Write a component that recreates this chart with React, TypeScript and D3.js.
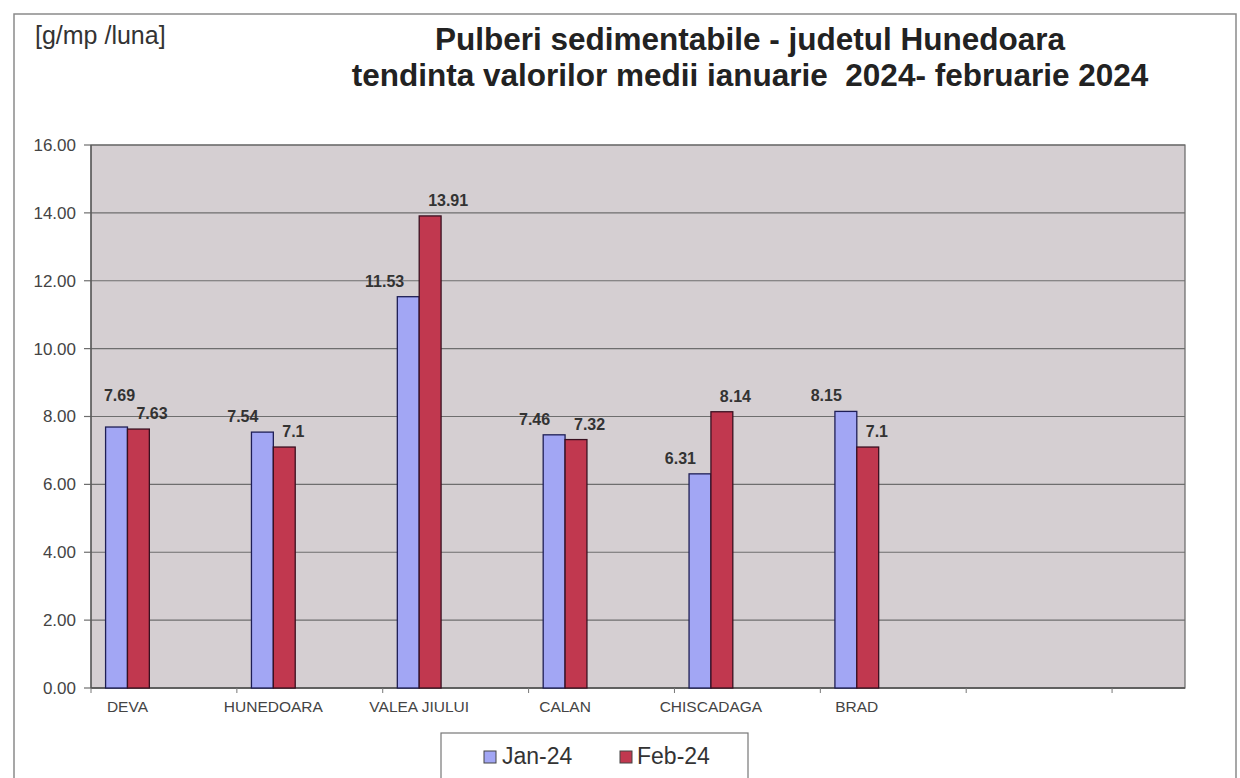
import React from 'react';
import * as d3 from 'd3';

// categories (Excel sheet had blank spacer columns between stations)
const categories = [
  'DEVA', '', 'HUNEDOARA', '', 'VALEA JIULUI', '', 'CALAN', '', 'CHISCADAGA', '', 'BRAD', '', '', '', '',
];
const stations = ['DEVA', 'HUNEDOARA', 'VALEA JIULUI', 'CALAN', 'CHISCADAGA', 'BRAD'];
const jan24 = [7.69, 7.54, 11.53, 7.46, 6.31, 8.15];
const feb24 = [7.63, 7.1, 13.91, 7.32, 8.14, 7.1];
const janLabels = ['7.69', '7.54', '11.53', '7.46', '6.31', '8.15'];
const febLabels = ['7.63', '7.1', '13.91', '7.32', '8.14', '7.1'];
const seriesNames = ['Jan-24', 'Feb-24'];
const yTicks = [0, 2, 4, 6, 8, 10, 12, 14, 16];

const W = 1240;
const H = 778;
const plot = { left: 91, right: 1185, top: 145, bottom: 688 };
const FONT = '"Liberation Sans", Arial, sans-serif';
const blue = '#a2a6f4';
const red = '#c1384f';
const LABEL_W = 36; // approx width of a data label

export default function App() {
  const x0 = d3
    .scaleBand<number>()
    .domain(d3.range(categories.length))
    .range([plot.left, plot.right]);

  const y = d3.scaleLinear().domain([0, 16]).range([plot.bottom, plot.top]);

  const groupW = x0.bandwidth() * 0.6;
  const x1 = d3
    .scaleBand<string>()
    .domain(seriesNames)
    .range([-groupW / 2, groupW / 2]);

  const slotOf = (name: string) => categories.indexOf(name);
  const center = (name: string) => (x0(slotOf(name)) as number) + x0.bandwidth() / 2;

  return (
    <svg width={W} height={H} style={{ display: 'block', position: 'absolute', left: 0, top: 0 }}>
      <rect x={0} y={0} width={W} height={H} fill="#ffffff" />
      {/* outer chart frame */}
      <rect x={14} y={14} width={1222} height={800} fill="none" stroke="#8a8a8a" strokeWidth={1.5} />

      <text x={35} y={44} fontFamily={FONT} fontSize={25} fill="#333">[g/mp /luna]</text>

      <text x={750} y={50} textAnchor="middle" fontFamily={FONT} fontSize={31.5} fontWeight="bold" fill="#222">
        Pulberi sedimentabile - judetul Hunedoara
      </text>
      <text x={750} y={86} textAnchor="middle" fontFamily={FONT} fontSize={31.5} fontWeight="bold" fill="#222" style={{ whiteSpace: 'pre' }}>
        {'tendinta valorilor medii ianuarie  2024- februarie 2024'}
      </text>

      {/* plot area */}
      <rect
        x={plot.left}
        y={plot.top}
        width={plot.right - plot.left}
        height={plot.bottom - plot.top}
        fill="#d5cfd2"
        stroke="#666"
        strokeWidth={1.2}
      />

      {yTicks.map(t => (
        <g key={t}>
          <line x1={plot.left} x2={plot.right} y1={y(t)} y2={y(t)} stroke="#6e6e6e" strokeWidth={1.2} />
          <line x1={plot.left - 7} x2={plot.left} y1={y(t)} y2={y(t)} stroke="#6e6e6e" strokeWidth={1.2} />
          <text
            x={plot.left - 15}
            y={y(t)}
            dy="0.35em"
            textAnchor="end"
            fontFamily={FONT}
            fontSize={17}
            fill="#444"
          >
            {d3.format('.2f')(t)}
          </text>
        </g>
      ))}

      {/* category axis */}
      <line x1={plot.left} x2={plot.right} y1={plot.bottom} y2={plot.bottom} stroke="#555" strokeWidth={1.5} />
      <line x1={plot.left} x2={plot.left} y1={plot.top} y2={plot.bottom} stroke="#555" strokeWidth={1.2} />
      {d3.range(0, categories.length + 1, 2).map(i => (
        <line
          key={i}
          x1={plot.left + i * x0.bandwidth()}
          x2={plot.left + i * x0.bandwidth()}
          y1={plot.bottom}
          y2={plot.bottom + 5}
          stroke="#777"
        />
      ))}
      {categories.map((c, i) =>
        c ? (
          <text
            key={i}
            x={(x0(i) as number) + x0.bandwidth() / 2}
            y={712}
            textAnchor="middle"
            fontFamily={FONT}
            fontSize={15.5}
            fill="#444"
          >
            {c}
          </text>
        ) : null
      )}

      {/* bars */}
      {stations.map((s, i) => {
        const cx = center(s);
        const bw = x1.bandwidth();
        const xj = cx + (x1('Jan-24') as number);
        const xf = cx + (x1('Feb-24') as number);
        // Jan label sits left of the bar; if it would leave the plot, lift it above the bar instead
        const janEnd = xj + bw / 2 - 4;
        const janOutside = janEnd - LABEL_W < plot.left;
        return (
          <g key={s}>
            <rect x={xj} y={y(jan24[i])} width={bw} height={y(0) - y(jan24[i])} fill={blue} stroke="#1e1e55" strokeWidth={1.3} />
            <rect x={xf} y={y(feb24[i])} width={bw} height={y(0) - y(feb24[i])} fill={red} stroke="#3a1020" strokeWidth={1.3} />
            <text
              x={janOutside ? xj + bw / 2 + 3 : janEnd}
              y={y(jan24[i]) - (janOutside ? 26 : 10)}
              textAnchor={janOutside ? 'middle' : 'end'}
              fontFamily={FONT}
              fontSize={16}
              fontWeight="bold"
              fill="#333"
            >
              {janLabels[i]}
            </text>
            <text
              x={xf + bw / 2 - 2}
              y={y(feb24[i]) - 10}
              textAnchor="start"
              fontFamily={FONT}
              fontSize={16}
              fontWeight="bold"
              fill="#333"
            >
              {febLabels[i]}
            </text>
          </g>
        );
      })}

      {/* legend */}
      <rect x={441} y={733} width={307} height={80} fill="#fff" stroke="#777" strokeWidth={1.2} />
      <rect x={484} y={751} width={12} height={12} fill={blue} stroke="#444" />
      <text x={502} y={764} fontFamily={FONT} fontSize={23} fill="#333">{seriesNames[0]}</text>
      <rect x={620} y={751} width={12} height={12} fill={red} stroke="#444" />
      <text x={637} y={764} fontFamily={FONT} fontSize={23} fill="#333">{seriesNames[1]}</text>
    </svg>
  );
}
